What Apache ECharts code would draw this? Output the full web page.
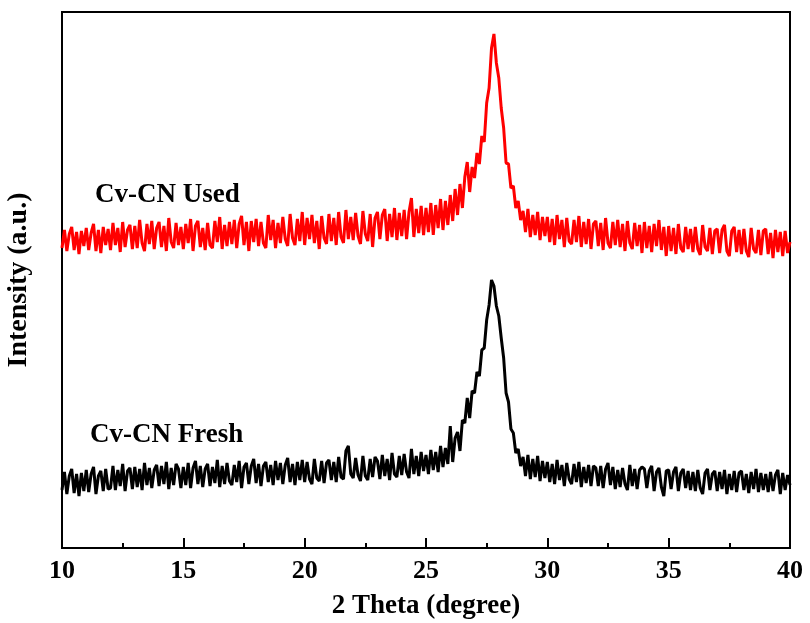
<!DOCTYPE html>
<html>
<head>
<meta charset="utf-8">
<script src="https://cdn.jsdelivr.net/npm/echarts@6/dist/echarts.min.js"></script>
<style>
  html, body { margin: 0; padding: 0; background: #fff; }
  #chart { width: 810px; height: 623px; }
</style>
</head>
<body>
<div id="chart"></div>
<script>
// 2θ scan: 10.0° to 40.0° in 0.1° steps
const thetaStart = 10;
const thetaStep = 0.1;

// Cv-CN Used (red, offset upward)
const usedCounts = [
  300, 318, 297, 314, 321, 298, 316, 294, 317, 302,
  320, 298, 315, 324, 297, 318, 295, 321, 303, 319,
  298, 325, 303, 320, 296, 326, 301, 318, 323, 299,
  322, 300, 328, 305, 297, 324, 304, 327, 299, 320,
  326, 301, 322, 297, 330, 306, 300, 325, 303, 321,
  299, 324, 305, 329, 297, 322, 327, 301, 320, 298,
  325, 303, 300, 327, 306, 331, 299, 323, 302, 326,
  304, 328, 300, 324, 332, 303, 326, 297, 327, 306,
  329, 302, 326, 305, 300, 333, 308, 328, 300, 325,
  305, 331, 309, 302, 334, 310, 303, 329, 307, 336,
  303, 330, 309, 333, 305, 327, 299, 332, 310, 304,
  334, 307, 330, 303, 336, 311, 305, 338, 309, 331,
  308, 335, 312, 304, 337, 314, 307, 334, 301, 330,
  336, 309, 333, 339, 307, 334, 311, 340, 308, 335,
  312, 338, 309, 336, 350, 311, 339, 315, 342, 313,
  340, 316, 345, 313, 343, 320, 349, 318, 347, 323,
  353, 327, 359, 333, 364, 340, 371, 386, 356, 381,
  370, 395, 384, 412, 406, 445, 460, 500, 514, 485,
  470, 440, 420, 385, 384, 360, 362, 340, 347, 328,
  337, 316, 339, 311, 333, 313, 336, 308, 331, 312,
  331, 306, 329, 303, 333, 309, 328, 301, 330, 307,
  304, 328, 306, 332, 301, 326, 304, 329, 299, 324,
  327, 302, 325, 298, 330, 305, 300, 326, 303, 328,
  301, 324, 297, 327, 305, 299, 325, 302, 323, 295,
  326, 300, 322, 296, 324, 302, 328, 298, 321, 292,
  322, 297, 320, 294, 324, 300, 296, 321, 299, 319,
  296, 321, 299, 293, 323, 301, 297, 320, 294, 317,
  319, 295, 318, 323, 297, 292, 317, 321, 296, 318,
  294, 319, 297, 291, 320, 299, 295, 318, 293, 317,
  319, 294, 315, 290, 318, 296, 316, 292, 317, 295,
  306
];

// Cv-CN Fresh (black)
const freshCounts = [
  58, 76, 54, 72, 79, 55, 74, 52, 75, 57,
  78, 56, 74, 81, 54, 72, 77, 57, 79, 59,
  60, 82, 58, 78, 62, 84, 57, 77, 80, 59,
  81, 61, 79, 58, 85, 63, 80, 60, 78, 83,
  62, 82, 64, 86, 59, 80, 63, 84, 79, 60,
  81, 63, 85, 60, 80, 87, 64, 82, 61, 79,
  84, 62, 81, 65, 88, 61, 82, 64, 85, 67,
  63, 83, 66, 87, 60, 81, 85, 64, 82, 89,
  65, 84, 62, 82, 86, 66, 83, 63, 87, 68,
  85, 64, 83, 90, 66, 84, 63, 86, 68, 88,
  66, 86, 69, 64, 89, 70, 67, 87, 65, 85,
  88, 68, 86, 66, 91, 71, 69, 97, 102, 74,
  70, 90, 73, 67, 92, 72, 68, 89, 71, 91,
  87, 69, 93, 72, 89, 68, 95, 74, 71, 92,
  73, 94, 76, 70, 99, 74, 92, 72, 96, 77,
  93, 74, 98, 78, 96, 76, 102, 81, 100, 84,
  122, 86, 110, 116, 97, 128, 125, 150, 130, 157,
  155, 176, 172, 198, 200, 228, 243, 268, 262, 242,
  232, 210, 190, 155, 146, 119, 115, 95, 99, 82,
  91, 72, 93, 69, 89, 71, 92, 67, 87, 70,
  86, 66, 84, 64, 88, 68, 83, 62, 85, 69,
  64, 84, 66, 86, 61, 81, 65, 83, 62, 82,
  80, 62, 82, 60, 79, 85, 63, 81, 59, 78,
  61, 80, 64, 58, 83, 62, 79, 59, 78, 81,
  79, 60, 77, 82, 57, 76, 80, 61, 52, 77,
  78, 59, 76, 81, 57, 75, 79, 60, 77, 58,
  76, 57, 78, 60, 54, 75, 79, 58, 74, 77,
  57, 76, 59, 78, 54, 74, 58, 77, 56, 75,
  77, 58, 74, 55, 76, 59, 79, 56, 75, 58,
  74, 56, 76, 57, 73, 78, 54, 75, 58, 73,
  63
];

const seriesNames = ['Cv-CN Used', 'Cv-CN Fresh'];
const seriesColors = ['#ff0000', '#000000'];

const serif = '"Liberation Serif", "Times New Roman", serif';

function toPairs(counts) {
  return counts.map((v, i) => [+(thetaStart + i * thetaStep).toFixed(1), v]);
}

const chart = echarts.init(document.getElementById('chart'));

chart.setOption({
  backgroundColor: '#fff',
  animation: false,
  grid: {
    left: 62, right: 20, top: 12, bottom: 75,
    outerBoundsMode: 'none',
    show: true,
    borderColor: '#000',
    borderWidth: 2,
    backgroundColor: 'transparent'
  },
  xAxis: {
    type: 'value',
    min: 10, max: 40, interval: 5,
    name: '2 Theta (degree)',
    nameLocation: 'middle',
    nameGap: 45,
    nameTextStyle: { fontFamily: serif, fontWeight: 'bold', fontSize: 27, color: '#000' },
    axisLine: { show: true, lineStyle: { color: '#000', width: 2 } },
    axisTick: { show: true, inside: true, length: 10, lineStyle: { color: '#000', width: 2 } },
    minorTick: { show: true, splitNumber: 2, length: 5, lineStyle: { color: '#000', width: 2 } },
    axisLabel: { fontFamily: serif, fontWeight: 'bold', fontSize: 26, color: '#000', margin: 10 },
    splitLine: { show: false }
  },
  yAxis: {
    type: 'value',
    min: 0, max: 536,
    name: 'Intensity (a.u.)',
    nameLocation: 'middle',
    nameGap: 29,
    nameRotate: 90,
    nameTextStyle: { fontFamily: serif, fontWeight: 'bold', fontSize: 28, color: '#000' },
    axisLine: { show: true, lineStyle: { color: '#000', width: 2 } },
    axisTick: { show: false },
    axisLabel: { show: false },
    splitLine: { show: false }
  },
  graphic: [
    { type: 'text', left: 95, top: 182,
      style: { text: seriesNames[0], font: 'bold 27px ' + serif, fill: '#000' } },
    { type: 'text', left: 90, top: 422,
      style: { text: seriesNames[1], font: 'bold 27px ' + serif, fill: '#000' } }
  ],
  series: [
    {
      name: seriesNames[0], type: 'line', data: toPairs(usedCounts),
      showSymbol: false, lineStyle: { color: seriesColors[0], width: 3 }
    },
    {
      name: seriesNames[1], type: 'line', data: toPairs(freshCounts),
      showSymbol: false, lineStyle: { color: seriesColors[1], width: 3 }
    }
  ]
});
</script>
</body>
</html>
